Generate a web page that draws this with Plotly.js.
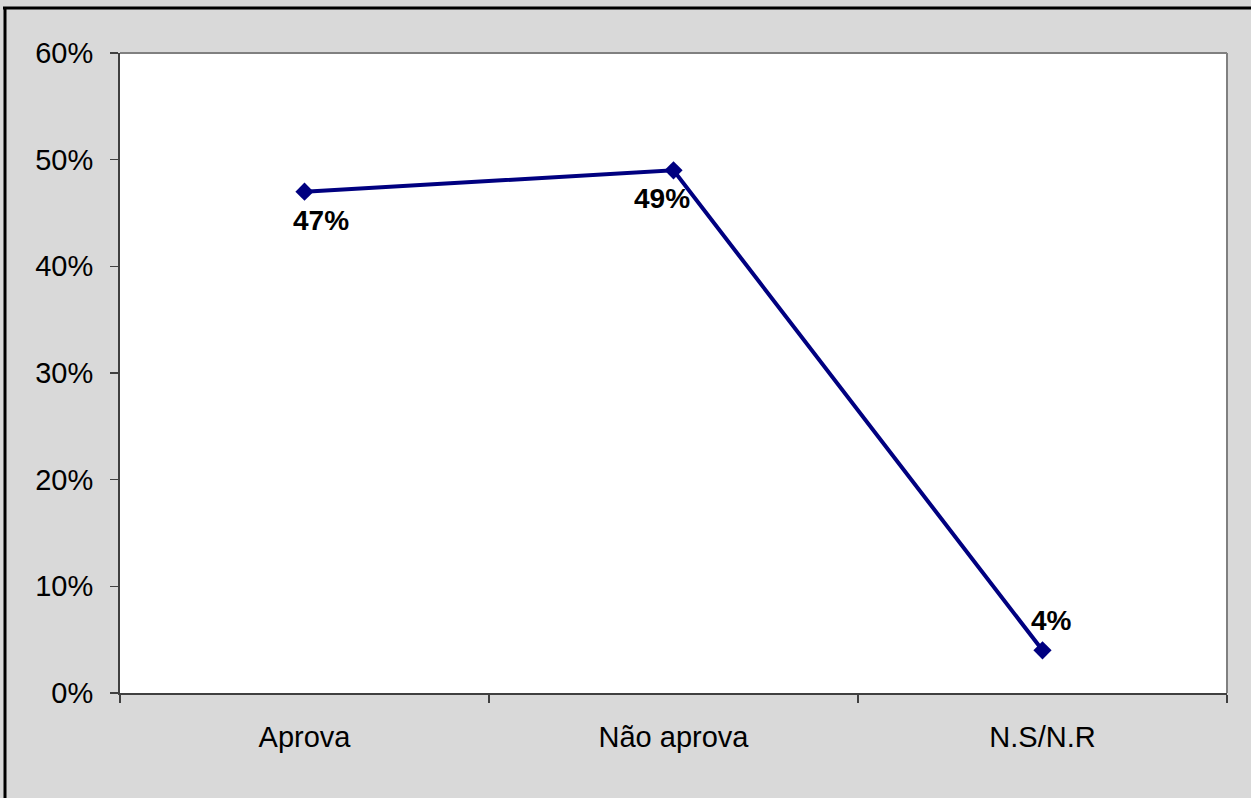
<!DOCTYPE html>
<html>
<head>
<meta charset="utf-8">
<script src="https://cdn.plot.ly/plotly-3.0.1.min.js"></script>
<style>
  html, body { margin: 0; padding: 0; background: #d9d9d9; }
  #chart { width: 1251px; height: 798px; }
</style>
</head>
<body>
<div id="chart"></div>
<script>
// ---- data ----
const categories = ["Aprova", "Não aprova", "N.S/N.R"];
const values = [0.47, 0.49, 0.04];
const valueLabels = ["47%", "49%", "4%"];
const yTickValues = [0, 0.1, 0.2, 0.3, 0.4, 0.5, 0.6];
const yTickLabels = ["0%", "10%", "20%", "30%", "40%", "50%", "60%"];

// ---- style (label offsets in pixels) ----
const labelXShift = [16, -12, 9];
const labelYShift = [-29, -28, 30];

const FONT = "Liberation Sans, Arial, sans-serif";
const W = 1251, H = 798;
const margin = { l: 120, r: 24, t: 53, b: 105 };
const pw = W - margin.l - margin.r, ph = H - margin.t - margin.b;
const px = x => (x - margin.l) / pw;
const py = y => (H - margin.b - y) / ph;

const trace = {
  type: "scatter",
  mode: "lines+markers",
  x: categories,
  y: values,
  line: { color: "#000080", width: 4 },
  marker: { symbol: "diamond", size: 14, color: "#000080" },
  hoverinfo: "skip",
  cliponaxis: false
};

const annotations = categories.map((c, i) => ({
  x: c, y: values[i], xref: "x", yref: "y",
  text: "<b>" + valueLabels[i] + "</b>",
  showarrow: false,
  xshift: labelXShift[i], yshift: labelYShift[i],
  font: { family: FONT, size: 28, color: "#000000" }
}));

const layout = {
  width: W, height: H,
  margin: margin,
  paper_bgcolor: "#d9d9d9",
  plot_bgcolor: "#ffffff",
  showlegend: false,
  font: { family: FONT, size: 29, color: "#000000" },
  xaxis: {
    type: "category",
    range: [-0.5, 2.5],
    tickson: "boundaries",
    ticks: "outside", ticklen: 8, tickwidth: 1.5, tickcolor: "#404040",
    showline: true, linecolor: "#404040", linewidth: 2,
    showgrid: false, zeroline: false,
    ticklabelstandoff: 17,
    tickfont: { family: FONT, size: 29, color: "#000000" },
    fixedrange: true
  },
  yaxis: {
    range: [0, 0.6],
    tickvals: yTickValues, ticktext: yTickLabels,
    ticks: "outside", ticklen: 8, tickwidth: 1.5, tickcolor: "#404040",
    showline: true, linecolor: "#404040", linewidth: 2,
    showgrid: false, zeroline: false,
    ticklabelstandoff: 11,
    tickfont: { family: FONT, size: 29, color: "#000000" },
    fixedrange: true
  },
  annotations: annotations,
  shapes: [
    // plot frame (top & right, gray)
    { type: "line", xref: "paper", yref: "paper", x0: 0, x1: 1, y0: 1, y1: 1,
      line: { color: "#808080", width: 2 } },
    { type: "line", xref: "paper", yref: "paper", x0: 1, x1: 1, y0: 0, y1: 1,
      line: { color: "#808080", width: 2 } },
    // outer chart border (top & left, black)
    { type: "line", xref: "paper", yref: "paper", x0: px(3), x1: px(W), y0: py(8), y1: py(8),
      line: { color: "#000000", width: 3 } },
    { type: "line", xref: "paper", yref: "paper", x0: px(5), x1: px(5), y0: py(7), y1: py(H),
      line: { color: "#000000", width: 3 } }
  ]
};

Plotly.newPlot("chart", [trace], layout, { staticPlot: true, displayModeBar: false });
</script>
</body>
</html>
